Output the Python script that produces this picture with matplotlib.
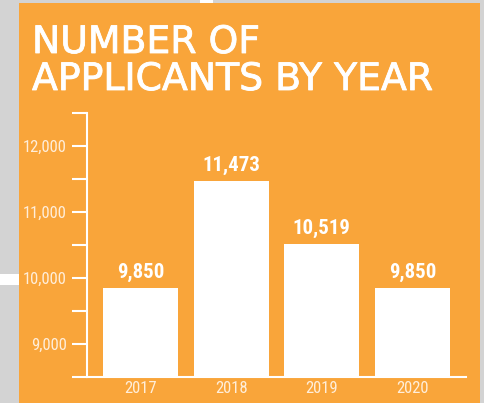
import matplotlib
matplotlib.use("Agg")
import matplotlib.pyplot as plt
from matplotlib.patches import Rectangle
from matplotlib import font_manager
import matplotlib.patheffects as pe

years = ["2017", "2018", "2019", "2020"]
applicants = [9850, 11473, 10519, 9850]
value_labels = ["9,850", "11,473", "10,519", "9,850"]
y_ticks = [9000, 10000, 11000, 12000]
y_tick_labels = ["9,000", "10,000", "11,000", "12,000"]
title_lines = ["NUMBER OF", "APPLICANTS BY YEAR"]

ORANGE = "#F9A53A"
GREY = "#D3D3D3"
CREAM = "#FFEEDA"


def pick(families):
    names = {f.name for f in font_manager.fontManager.ttflist}
    for fam in families:
        if fam in names:
            return fam
    return "DejaVu Sans"


narrow = pick(["Liberation Sans Narrow", "Roboto Condensed", "Liberation Sans"])

W, H = 484, 403
fig = plt.figure(figsize=(W / 100, H / 100), dpi=100)
fig.patch.set_facecolor(GREY)

# orange panel and white strips
fig.add_artist(Rectangle((19 / W, 0), 461 / W, 1 - 3 / H, transform=fig.transFigure,
                         facecolor=ORANGE, edgecolor="none", zorder=0))
fig.add_artist(Rectangle((200 / W, 1 - 3 / H), 13 / W, 3 / H, transform=fig.transFigure,
                         facecolor="white", edgecolor="none", zorder=0))
fig.add_artist(Rectangle((0, 1 - 285 / H), 19 / W, 11 / H, transform=fig.transFigure,
                         facecolor="white", edgecolor="none", zorder=0))

# title, slightly thickened strokes
title_kw = dict(color="white", fontsize=27.2, family="DejaVu Sans", ha="left",
                va="baseline",
                path_effects=[pe.withStroke(linewidth=0.6, foreground="white")])
fig.text(32 / W, 1 - 53 / H, title_lines[0], **title_kw)
fig.text(32 / W, 1 - 90 / H, title_lines[1], **title_kw)

ax = fig.add_axes([87 / W, 1 - 377 / H, (466 - 87) / W, (377 - 113) / H])
ax.set_facecolor("none")

x = list(range(len(years)))
bars = ax.bar(x, applicants, width=0.83, color="white", zorder=3)
ax.bar_label(bars, labels=value_labels, padding=4, color="white", fontsize=15,
             fontweight="bold", family=narrow)

ax.set_ylim(8500, 12500)
ax.set_xlim(-0.59, 3.59)

ax.set_yticks([8500, 9000, 9500, 10000, 10500, 11000, 11500, 12000, 12500])
ax.set_yticklabels(["", y_tick_labels[0], "", y_tick_labels[1], "", y_tick_labels[2], "",
                    y_tick_labels[3], ""])
ax.set_xticks(x)
ax.set_xticklabels(years)

for lbl in ax.get_yticklabels() + ax.get_xticklabels():
    lbl.set_family(narrow)
    lbl.set_fontsize(12)
    lbl.set_color(CREAM)

ax.tick_params(axis="y", length=11, width=1.5, color="white", pad=3.5)
ax.tick_params(axis="x", length=0, pad=3)

for side in ("top", "right"):
    ax.spines[side].set_visible(False)
for side in ("left", "bottom"):
    ax.spines[side].set_color("white")
    ax.spines[side].set_linewidth(1.5)
    ax.spines[side].set_zorder(4)

fig.savefig("out.png", dpi=100, facecolor=fig.get_facecolor())
